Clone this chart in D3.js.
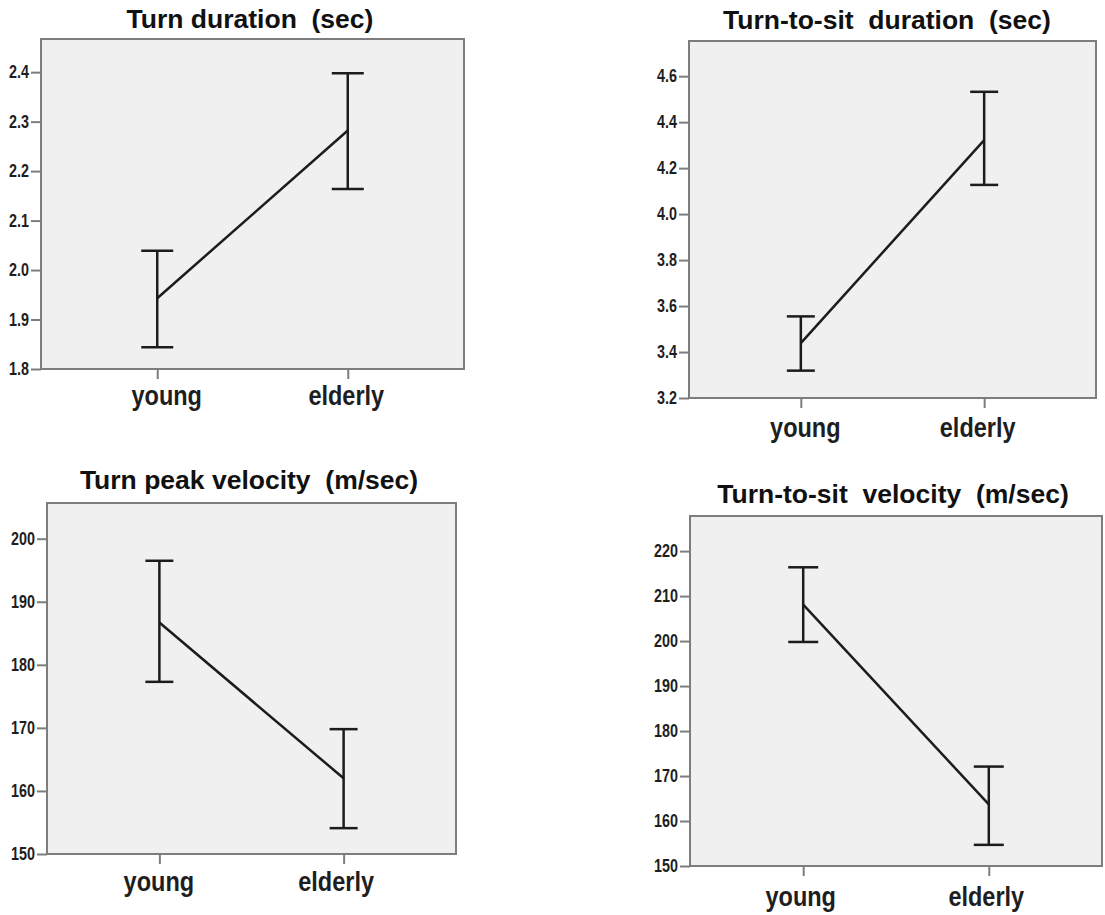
<!DOCTYPE html>
<html>
<head>
<meta charset="utf-8">
<script src="https://cdn.jsdelivr.net/npm/d3@7"></script>
<style>
  html, body { margin: 0; padding: 0; background: #ffffff; }
  svg { display: block; }
  .title { font-family: Arial, "Liberation Sans", sans-serif; font-weight: bold; font-size: 26.5px; fill: #111; white-space: pre; }
  .yaxis text { font-family: Arial, "Liberation Sans", sans-serif; font-weight: bold; font-size: 17.5px; fill: #1e1e1e; }
  .xaxis text { font-family: Arial, "Liberation Sans", sans-serif; font-weight: bold; font-size: 28px; fill: #1e1e1e; }
</style>
</head>
<body>
<svg id="chart" width="1105" height="915"></svg>
<script>
// Group labels on the x axis
const groups = ["young", "elderly"];

// Turn duration (sec): mean and 95% CI bounds
const turnDurationMean = [1.943, 2.282];
const turnDurationLow  = [1.844, 2.164];
const turnDurationHigh = [2.039, 2.398];
const turnDurationTicks = [1.8, 1.9, 2.0, 2.1, 2.2, 2.3, 2.4];

// Turn-to-sit duration (sec)
const sitDurationMean = [3.439, 4.322];
const sitDurationLow  = [3.319, 4.127];
const sitDurationHigh = [3.555, 4.532];
const sitDurationTicks = [3.2, 3.4, 3.6, 3.8, 4.0, 4.2, 4.4, 4.6];

// Turn peak velocity (m/sec)
const peakVelocityMean = [186.7, 162.0];
const peakVelocityLow  = [177.3, 154.1];
const peakVelocityHigh = [196.5, 169.8];
const peakVelocityTicks = [150, 160, 170, 180, 190, 200];

// Turn-to-sit velocity (m/sec)
const sitVelocityMean = [208.1, 163.7];
const sitVelocityLow  = [199.8, 154.7];
const sitVelocityHigh = [216.4, 172.1];
const sitVelocityTicks = [150, 160, 170, 180, 190, 200, 210, 220];

const panels = [
  { title: "Turn duration  (sec)", mean: turnDurationMean, low: turnDurationLow, high: turnDurationHigh,
    ticks: turnDurationTicks, fmt: d3.format(".1f"), domain: [1.8, 2.467],
    box: { left: 41, top: 39, right: 464, bottom: 369 }, titleX: 250, titleY: 28,
    labelGap: 36, labelShift: [9, -2], cap: 16 },
  { title: "Turn-to-sit  duration  (sec)", mean: sitDurationMean, low: sitDurationLow, high: sitDurationHigh,
    ticks: sitDurationTicks, fmt: d3.format(".1f"), domain: [3.2, 4.753],
    box: { left: 689, top: 41, right: 1096, bottom: 398 }, titleX: 887, titleY: 29,
    labelGap: 39, labelShift: [4, -7], cap: 14 },
  { title: "Turn peak velocity  (m/sec)", mean: peakVelocityMean, low: peakVelocityLow, high: peakVelocityHigh,
    ticks: peakVelocityTicks, fmt: d3.format("d"), domain: [150, 205.66],
    box: { left: 47, top: 503, right: 456, bottom: 854 }, titleX: 249, titleY: 489,
    labelGap: 37, labelShift: [-1, -8], cap: 14 },
  { title: "Turn-to-sit  velocity  (m/sec)", mean: sitVelocityMean, low: sitVelocityLow, high: sitVelocityHigh,
    ticks: sitVelocityTicks, fmt: d3.format("d"), domain: [150, 227.8],
    box: { left: 690, top: 516, right: 1102, bottom: 866 }, titleX: 893, titleY: 503,
    labelGap: 40, labelShift: [-3, -3], cap: 15 }
];

const svg = d3.select("#chart");
const frameColor = "#7d7d7d";
const markColor = "#1c1c1c";
const tickLen = 10, tickPad = 2;

panels.forEach(p => {
  const b = p.box;
  const x = d3.scalePoint().domain(groups).range([b.left, b.right]).padding(0.61);
  const y = d3.scaleLinear().domain(p.domain).range([b.bottom, b.top]);
  const g = svg.append("g");

  // plot area background and frame
  g.append("rect")
    .attr("x", b.left).attr("y", b.top)
    .attr("width", b.right - b.left).attr("height", b.bottom - b.top)
    .attr("fill", "#f0f0f0").attr("stroke", frameColor).attr("stroke-width", 2);

  // y axis; labels narrowed horizontally
  const ya = g.append("g").attr("class", "yaxis")
    .attr("transform", `translate(${b.left},0)`)
    .call(d3.axisLeft(y).tickValues(p.ticks).tickFormat(p.fmt).tickSize(tickLen).tickPadding(tickPad));
  ya.select(".domain").remove();
  ya.selectAll(".tick line").attr("stroke", frameColor).attr("stroke-width", 2);
  ya.selectAll(".tick text")
    .attr("x", 0)
    .attr("transform", `translate(${-(tickLen + tickPad)},0) scale(0.82,1)`);

  // x axis; labels narrowed horizontally
  const xa = g.append("g").attr("class", "xaxis")
    .attr("transform", `translate(0,${b.bottom})`)
    .call(d3.axisBottom(x).tickSize(tickLen).tickPadding(0));
  xa.select(".domain").remove();
  xa.selectAll(".tick line").attr("stroke", frameColor).attr("stroke-width", 2);
  xa.selectAll(".tick text")
    .attr("dy", null).attr("y", p.labelGap)
    .attr("transform", (d, i) => `translate(${p.labelShift[i]},0) scale(0.84,1)`);

  // error bars
  groups.forEach((grp, i) => {
    const cx = x(grp);
    g.append("line").attr("x1", cx).attr("x2", cx)
      .attr("y1", y(p.low[i])).attr("y2", y(p.high[i]))
      .attr("stroke", markColor).attr("stroke-width", 2.5);
    [p.low[i], p.high[i]].forEach(v => {
      g.append("line").attr("x1", cx - p.cap).attr("x2", cx + p.cap)
        .attr("y1", y(v)).attr("y2", y(v))
        .attr("stroke", markColor).attr("stroke-width", 2.5);
    });
  });

  // line joining the group means
  g.append("path")
    .datum(groups.map((grp, i) => [x(grp), y(p.mean[i])]))
    .attr("d", d3.line())
    .attr("fill", "none").attr("stroke", markColor).attr("stroke-width", 2.5);

  // title
  g.append("text").attr("class", "title")
    .attr("x", p.titleX).attr("y", p.titleY)
    .attr("text-anchor", "middle")
    .text(p.title);
});
</script>
</body>
</html>
